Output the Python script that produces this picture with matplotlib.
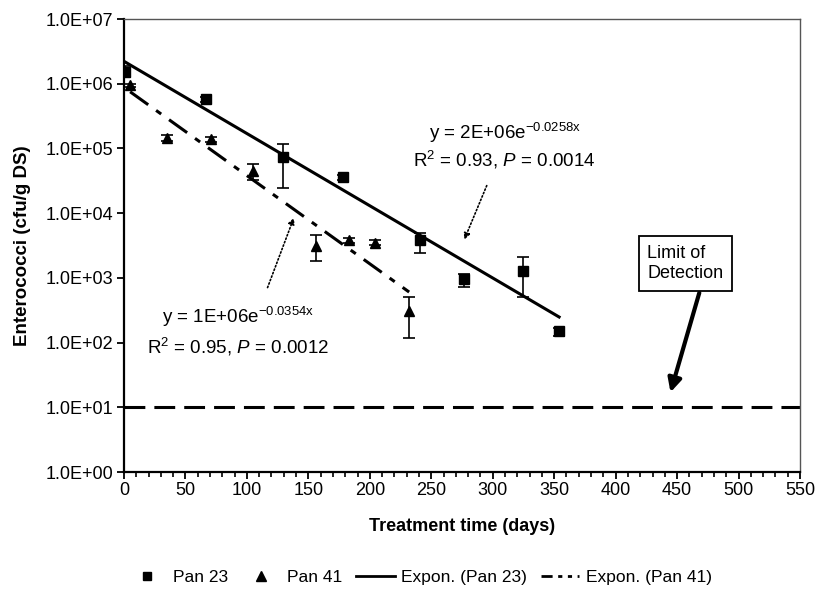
import matplotlib
matplotlib.use("Agg")
import matplotlib.pyplot as plt
import numpy as np
from matplotlib.lines import Line2D
from matplotlib.ticker import FuncFormatter, MultipleLocator

plt.rcParams["font.family"] = ["Liberation Sans", "DejaVu Sans"]
plt.rcParams["mathtext.fontset"] = "custom"
plt.rcParams["mathtext.rm"] = "Liberation Sans"
plt.rcParams["mathtext.it"] = "Liberation Sans:italic"
plt.rcParams["lines.scale_dashes"] = False

# Pan 23 (squares)
p23_days = [1, 67, 129, 178, 241, 277, 325, 354]
p23_vals = [1.5e6, 5.8e5, 7.4e4, 3.6e4, 3.9e3, 9.6e2, 1.3e3, 1.5e2]
p23_high = [1.85e6, 6.3e5, 1.17e5, 3.9e4, 4.9e3, 1.15e3, 2.1e3, 1.7e2]
p23_low = [1.25e6, 5.3e5, 2.45e4, 3.3e4, 2.46e3, 7.2e2, 5.1e2, 1.25e2]

# Pan 41 (triangles)
p41_days = [5, 35, 71, 105, 156, 183, 204, 232]
p41_vals = [9.5e5, 1.46e5, 1.38e5, 4.5e4, 3.1e3, 3.8e3, 3.5e3, 3.1e2]
p41_high = [1.0e6, 1.6e5, 1.5e5, 5.8e4, 4.6e3, 4.1e3, 3.8e3, 5.1e2]
p41_low = [9.0e5, 1.3e5, 1.25e5, 3.2e4, 1.8e3, 3.5e3, 3.2e3, 1.16e2]

detection_limit = 10
x_range = [0, 550]

eq23 = [r"y = 2E+06e$^{\mathrm{-0.0258x}}$", r"R$^{2}$ = 0.93, $P$ = 0.0014"]
eq41 = [r"y = 1E+06e$^{\mathrm{-0.0354x}}$", r"R$^{2}$ = 0.95, $P$ = 0.0012"]


def expfit(days, vals):
    # same as an Excel exponential trendline: straight line through ln(y)
    k, b = np.polyfit(days, np.log(vals), 1)
    xs = np.linspace(min(days), max(days), 100)
    return xs, np.exp(b + k * xs)


fig = plt.figure(figsize=(8.19, 5.95), dpi=100)
ax = fig.add_axes([0.1514, 0.2067, 0.8254, 0.7613])

dash41 = (0, (16, 7, 4.5, 7))

ax.plot(x_range, [detection_limit] * 2, color="black", lw=2.2,
        linestyle=(0, (15, 6.5)))

xs, ys = expfit(p23_days, p23_vals)
ax.plot(xs, ys, color="black", lw=2.2)
xs, ys = expfit(p41_days, p41_vals)
ax.plot(xs, ys, color="black", lw=2.2, linestyle=dash41)

for d, v, lo, hi, m, ms in [
    (p23_days, p23_vals, p23_low, p23_high, "s", 6.5),
    (p41_days, p41_vals, p41_low, p41_high, "^", 7.5),
]:
    v = np.array(v)
    yerr = [v - np.array(lo), np.array(hi) - v]
    ax.errorbar(d, v, yerr=yerr, fmt=m, color="black", ms=ms,
                ecolor="black", elinewidth=1.2, capsize=4.5, capthick=1.2,
                zorder=4)

ax.set_yscale("log")
ax.set_ylim(1, 1e7)
ax.set_xlim(*x_range)
ax.yaxis.set_major_formatter(FuncFormatter(lambda v, p: "{:.1E}".format(v)))
ax.yaxis.set_minor_locator(matplotlib.ticker.NullLocator())
ax.xaxis.set_major_locator(MultipleLocator(50))
ax.xaxis.set_minor_locator(MultipleLocator(10))
ax.tick_params(axis="both", which="major", labelsize=13, length=5,
               width=1.3, direction="out")
ax.tick_params(axis="x", which="minor", length=3.5, width=1.2)
ax.tick_params(axis="x", pad=2)
ax.tick_params(axis="y", pad=3)

for s in ("left", "bottom"):
    ax.spines[s].set_linewidth(1.6)
for s in ("top", "right"):
    ax.spines[s].set_linewidth(1.0)
    ax.spines[s].set_color("#555555")

ax.set_xlabel("Treatment time (days)", fontsize=13, fontweight="bold",
              labelpad=14)
ax.set_ylabel("Enterococci (cfu/g DS)", fontsize=13.5, fontweight="bold",
              labelpad=10)

# equations
ax.text(310, 1.73e5, eq23[0], fontsize=13.5, ha="center", va="center")
ax.text(309, 6.6e4, eq23[1], fontsize=13.5, ha="center", va="center")
ax.text(92.8, 248, eq41[0], fontsize=13.5, ha="center", va="center")
ax.text(92.8, 85, eq41[1], fontsize=13.5, ha="center", va="center")

dotted = dict(arrowstyle="-|>", linestyle=":", lw=1.2, color="black",
              mutation_scale=9)
ax.annotate("", xy=(276, 3.57e3), xytext=(296, 2.92e4), arrowprops=dotted)
ax.annotate("", xy=(139, 9.3e3), xytext=(116, 646), arrowprops=dotted)

ax.text(456.8, 1.67e3, "Limit of\nDetection", fontsize=13, ha="center",
        va="center", multialignment="left", linespacing=1.3,
        bbox=dict(boxstyle="square,pad=0.45", fc="white", ec="black", lw=1.3))
ax.annotate("", xy=(444, 15.5), xytext=(468.7, 646),
            arrowprops=dict(arrowstyle="-|>", lw=3, color="black",
                            mutation_scale=20))

handles = [
    Line2D([], [], marker="s", ls="none", color="black", ms=5.5),
    Line2D([], [], marker="^", ls="none", color="black", ms=6.5),
    Line2D([], [], color="black", lw=2),
    Line2D([], [], color="black", lw=2, linestyle=(0, (8, 4, 3, 4, 3, 4))),
]
labels = ["Pan 23", "Pan 41", "Expon. (Pan 23)", "Expon. (Pan 41)"]
fig.legend(handles, labels, loc="center", bbox_to_anchor=(0.513, 0.03),
           ncol=4, frameon=False, fontsize=12.5, handlelength=2.2,
           handletextpad=0.4, columnspacing=0.8)

fig.savefig("out.png", dpi=100, facecolor="white")
